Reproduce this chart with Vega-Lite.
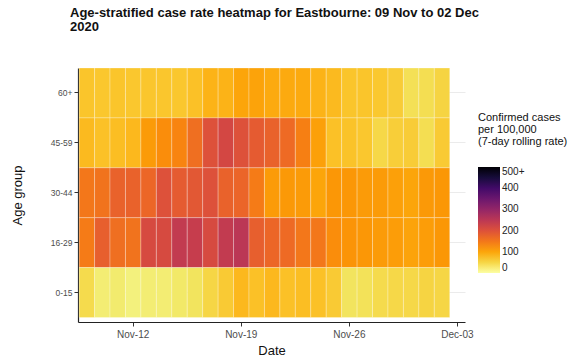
{
  "$schema": "https://vega.github.io/schema/vega-lite/v6.json",
  "width": 387,
  "height": 254,
  "autosize": {"type": "none"},
  "padding": {"left": 78, "top": 68, "right": 119, "bottom": 38},
  "background": "white",
  "title": {
    "text": ["Age-stratified case rate heatmap for Eastbourne: 09 Nov to 02 Dec", "2020"],
    "anchor": "start",
    "frame": "group",
    "dx": -8,
    "offset": 34,
    "font": "Liberation Sans",
    "fontSize": 13,
    "fontWeight": "bold",
    "lineHeight": 13.5,
    "color": "#111111"
  },
  "config": {
    "view": {"stroke": null},
    "font": "Liberation Sans",
    "axis": {
      "labelFont": "Liberation Sans",
      "titleFont": "Liberation Sans",
      "titleFontWeight": "normal",
      "titleColor": "#111111",
      "labelColor": "#4d4d4d",
      "domainColor": "#222222",
      "domainWidth": 1.2,
      "tickColor": "#333333",
      "tickSize": 4,
      "zindex": 0
    }
  },
  "datasets": {
    "rates": [
      {"g": "60+", "d": "2020-11-09", "v": 68}, {"g": "60+", "d": "2020-11-10", "v": 66}, {"g": "60+", "d": "2020-11-11", "v": 68}, {"g": "60+", "d": "2020-11-12", "v": 66},
      {"g": "60+", "d": "2020-11-13", "v": 67}, {"g": "60+", "d": "2020-11-14", "v": 67}, {"g": "60+", "d": "2020-11-15", "v": 66}, {"g": "60+", "d": "2020-11-16", "v": 72},
      {"g": "60+", "d": "2020-11-17", "v": 85}, {"g": "60+", "d": "2020-11-18", "v": 85}, {"g": "60+", "d": "2020-11-19", "v": 100}, {"g": "60+", "d": "2020-11-20", "v": 102},
      {"g": "60+", "d": "2020-11-21", "v": 95}, {"g": "60+", "d": "2020-11-22", "v": 95}, {"g": "60+", "d": "2020-11-23", "v": 95}, {"g": "60+", "d": "2020-11-24", "v": 85},
      {"g": "60+", "d": "2020-11-25", "v": 78}, {"g": "60+", "d": "2020-11-26", "v": 68}, {"g": "60+", "d": "2020-11-27", "v": 68}, {"g": "60+", "d": "2020-11-28", "v": 65},
      {"g": "60+", "d": "2020-11-29", "v": 60}, {"g": "60+", "d": "2020-11-30", "v": 40}, {"g": "60+", "d": "2020-12-01", "v": 42}, {"g": "60+", "d": "2020-12-02", "v": 52},

      {"g": "45-59", "d": "2020-11-09", "v": 78}, {"g": "45-59", "d": "2020-11-10", "v": 72}, {"g": "45-59", "d": "2020-11-11", "v": 75}, {"g": "45-59", "d": "2020-11-12", "v": 80},
      {"g": "45-59", "d": "2020-11-13", "v": 110}, {"g": "45-59", "d": "2020-11-14", "v": 125}, {"g": "45-59", "d": "2020-11-15", "v": 135}, {"g": "45-59", "d": "2020-11-16", "v": 160},
      {"g": "45-59", "d": "2020-11-17", "v": 200}, {"g": "45-59", "d": "2020-11-18", "v": 215}, {"g": "45-59", "d": "2020-11-19", "v": 200}, {"g": "45-59", "d": "2020-11-20", "v": 185},
      {"g": "45-59", "d": "2020-11-21", "v": 175}, {"g": "45-59", "d": "2020-11-22", "v": 165}, {"g": "45-59", "d": "2020-11-23", "v": 140}, {"g": "45-59", "d": "2020-11-24", "v": 105},
      {"g": "45-59", "d": "2020-11-25", "v": 72}, {"g": "45-59", "d": "2020-11-26", "v": 70}, {"g": "45-59", "d": "2020-11-27", "v": 66}, {"g": "45-59", "d": "2020-11-28", "v": 48},
      {"g": "45-59", "d": "2020-11-29", "v": 58}, {"g": "45-59", "d": "2020-11-30", "v": 60}, {"g": "45-59", "d": "2020-12-01", "v": 42}, {"g": "45-59", "d": "2020-12-02", "v": 62},

      {"g": "30-44", "d": "2020-11-09", "v": 150}, {"g": "30-44", "d": "2020-11-10", "v": 155}, {"g": "30-44", "d": "2020-11-11", "v": 175}, {"g": "30-44", "d": "2020-11-12", "v": 175},
      {"g": "30-44", "d": "2020-11-13", "v": 170}, {"g": "30-44", "d": "2020-11-14", "v": 200}, {"g": "30-44", "d": "2020-11-15", "v": 185}, {"g": "30-44", "d": "2020-11-16", "v": 190},
      {"g": "30-44", "d": "2020-11-17", "v": 200}, {"g": "30-44", "d": "2020-11-18", "v": 175}, {"g": "30-44", "d": "2020-11-19", "v": 172}, {"g": "30-44", "d": "2020-11-20", "v": 145},
      {"g": "30-44", "d": "2020-11-21", "v": 110}, {"g": "30-44", "d": "2020-11-22", "v": 112}, {"g": "30-44", "d": "2020-11-23", "v": 110}, {"g": "30-44", "d": "2020-11-24", "v": 100},
      {"g": "30-44", "d": "2020-11-25", "v": 115}, {"g": "30-44", "d": "2020-11-26", "v": 115}, {"g": "30-44", "d": "2020-11-27", "v": 110}, {"g": "30-44", "d": "2020-11-28", "v": 110},
      {"g": "30-44", "d": "2020-11-29", "v": 105}, {"g": "30-44", "d": "2020-11-30", "v": 100}, {"g": "30-44", "d": "2020-12-01", "v": 112}, {"g": "30-44", "d": "2020-12-02", "v": 115},

      {"g": "16-29", "d": "2020-11-09", "v": 145}, {"g": "16-29", "d": "2020-11-10", "v": 180}, {"g": "16-29", "d": "2020-11-11", "v": 160}, {"g": "16-29", "d": "2020-11-12", "v": 155},
      {"g": "16-29", "d": "2020-11-13", "v": 210}, {"g": "16-29", "d": "2020-11-14", "v": 210}, {"g": "16-29", "d": "2020-11-15", "v": 240}, {"g": "16-29", "d": "2020-11-16", "v": 235},
      {"g": "16-29", "d": "2020-11-17", "v": 210}, {"g": "16-29", "d": "2020-11-18", "v": 240}, {"g": "16-29", "d": "2020-11-19", "v": 250}, {"g": "16-29", "d": "2020-11-20", "v": 180},
      {"g": "16-29", "d": "2020-11-21", "v": 170}, {"g": "16-29", "d": "2020-11-22", "v": 165}, {"g": "16-29", "d": "2020-11-23", "v": 150}, {"g": "16-29", "d": "2020-11-24", "v": 150},
      {"g": "16-29", "d": "2020-11-25", "v": 125}, {"g": "16-29", "d": "2020-11-26", "v": 118}, {"g": "16-29", "d": "2020-11-27", "v": 115}, {"g": "16-29", "d": "2020-11-28", "v": 110},
      {"g": "16-29", "d": "2020-11-29", "v": 108}, {"g": "16-29", "d": "2020-11-30", "v": 102}, {"g": "16-29", "d": "2020-12-01", "v": 108}, {"g": "16-29", "d": "2020-12-02", "v": 115},

      {"g": "0-15", "d": "2020-11-09", "v": 45}, {"g": "0-15", "d": "2020-11-10", "v": 25}, {"g": "0-15", "d": "2020-11-11", "v": 27}, {"g": "0-15", "d": "2020-11-12", "v": 20},
      {"g": "0-15", "d": "2020-11-13", "v": 25}, {"g": "0-15", "d": "2020-11-14", "v": 25}, {"g": "0-15", "d": "2020-11-15", "v": 30}, {"g": "0-15", "d": "2020-11-16", "v": 35},
      {"g": "0-15", "d": "2020-11-17", "v": 50}, {"g": "0-15", "d": "2020-11-18", "v": 62}, {"g": "0-15", "d": "2020-11-19", "v": 80}, {"g": "0-15", "d": "2020-11-20", "v": 72},
      {"g": "0-15", "d": "2020-11-21", "v": 80}, {"g": "0-15", "d": "2020-11-22", "v": 72}, {"g": "0-15", "d": "2020-11-23", "v": 75}, {"g": "0-15", "d": "2020-11-24", "v": 72},
      {"g": "0-15", "d": "2020-11-25", "v": 62}, {"g": "0-15", "d": "2020-11-26", "v": 35}, {"g": "0-15", "d": "2020-11-27", "v": 38}, {"g": "0-15", "d": "2020-11-28", "v": 45},
      {"g": "0-15", "d": "2020-11-29", "v": 48}, {"g": "0-15", "d": "2020-11-30", "v": 48}, {"g": "0-15", "d": "2020-12-01", "v": 52}, {"g": "0-15", "d": "2020-12-02", "v": 50}
    ]
  },
  "data": {"name": "rates"},
  "mark": {"type": "rect", "stroke": "white", "strokeWidth": 0.6, "strokeOpacity": 0.45},
  "encoding": {
    "x": {
      "field": "d",
      "timeUnit": "utcyearmonthdate",
      "type": "temporal",
      "title": "Date",
      "scale": {
        "type": "utc",
        "domain": [
          {"year": 2020, "month": 11, "date": 8, "hours": 23, "utc": true},
          {"year": 2020, "month": 12, "date": 4, "hours": 0, "minutes": 30, "utc": true}
        ]
      },
      "axis": {
        "values": [
          {"year": 2020, "month": 11, "date": 12, "hours": 12, "utc": true},
          {"year": 2020, "month": 11, "date": 19, "hours": 12, "utc": true},
          {"year": 2020, "month": 11, "date": 26, "hours": 12, "utc": true},
          {"year": 2020, "month": 12, "date": 3, "hours": 12, "utc": true}
        ],
        "labelExpr": "utcFormat(datum.value, '%b-%d')",
        "labelFontSize": 10,
        "labelPadding": 3,
        "titleFontSize": 13,
        "titlePadding": 5,
        "grid": false,
        "labelFlush": false
      }
    },
    "y": {
      "field": "g",
      "type": "ordinal",
      "sort": ["60+", "45-59", "30-44", "16-29", "0-15"],
      "title": "Age group",
      "scale": {"paddingInner": 0, "paddingOuter": 0.045, "align": 0},
      "axis": {
        "labelFontSize": 8.5,
        "titleFontSize": 13,
        "titlePadding": 26,
        "grid": true,
        "gridColor": "#ebebeb",
        "gridWidth": 1,
        "zindex": 0
      }
    },
    "color": {
      "field": "v",
      "type": "quantitative",
      "scale": {"scheme": "inferno", "reverse": true, "domain": [0, 500], "clamp": true},
      "legend": {
        "title": ["Confirmed cases", "\u00a0per 100,000", "\u00a0(7-day rolling rate)"],
        "titleFont": "Liberation Sans",
        "titleFontSize": 11,
        "titleFontWeight": "normal",
        "titleLineHeight": 12,
        "titleColor": "#111111",
        "titlePadding": 20,
        "labelFont": "Liberation Sans",
        "labelFontSize": 10,
        "labelColor": "#222222",
        "values": [0, 100, 200, 300, 400, 500],
        "labelExpr": "datum.value == 500 ? '500+' : datum.label",
        "gradientLength": 106,
        "gradientThickness": 22,
        "gradientStrokeWidth": 0,
        "labelOverlap": false,
        "orient": "none",
        "legendX": 400,
        "legendY": 44
      }
    }
  }
}
